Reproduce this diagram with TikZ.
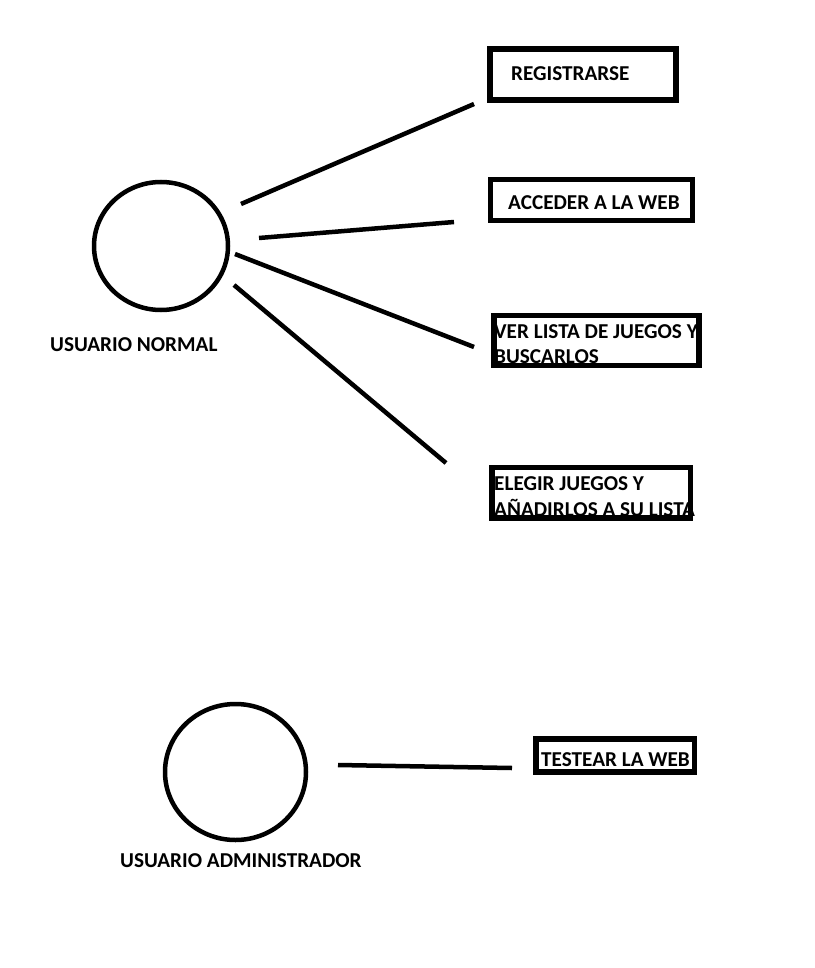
\documentclass[tikz,border=0pt]{standalone}
\usepackage{fontspec}
\setmainfont{Carlito}
\usetikzlibrary{shapes.geometric}
\begin{document}
\begin{tikzpicture}[x=1pt,y=-1pt,
  actor/.style={draw,line width=4.5pt,ellipse,inner sep=0pt},
  usecase/.style={draw,line width=5.5pt,rectangle,inner sep=0pt},
  lbl/.style={anchor=base west,inner sep=0pt,font=\fontsize{21.2}{25}\selectfont\bfseries},
  conn/.style={line width=4.5pt}]
\useasboundingbox[fill=white] (0,0) rectangle (814,968);
% actors
\node[actor,minimum width=134pt,minimum height=128pt] (u1) at (161,246) {};
\node[actor,minimum width=141pt,minimum height=136pt] (u2) at (235.5,772) {};
\node[lbl] (u1l) at (50,351) {USUARIO NORMAL};
\node[lbl] (u2l) at (120,867) {USUARIO ADMINISTRADOR};
% use case boxes
\node[usecase,minimum width=186pt,minimum height=51pt] (b1) at (583,74.5) {};
\node[usecase,minimum width=202pt,minimum height=41pt] (b2) at (591.5,200) {};
\node[usecase,minimum width=205pt,minimum height=50pt] (b3) at (596.5,340.5) {};
\node[usecase,minimum width=198.5pt,minimum height=50.5pt] (b4) at (591.25,492.75) {};
\node[usecase,minimum width=158.5pt,minimum height=33pt] (b5) at (615.25,755.5) {};
\node[lbl] (t1) at (511,81) {REGISTRARSE};
\node[lbl] (t2) at (508,210) {ACCEDER A LA WEB};
\node[lbl] (t3a) at (494,338) {VER LISTA DE JUEGOS Y};
\node[lbl] (t3b) at (494,363) {BUSCARLOS};
\node[lbl] (t4a) at (494,490) {ELEGIR JUEGOS Y};
\node[lbl] (t4b) at (494,516) {AÑADIRLOS A SU LISTA};
\node[lbl] (t5) at (541,766) {TESTEAR LA WEB};
% connector ends
\coordinate (c1s) at (241,204); \coordinate (c1e) at (474,104);
\coordinate (c2s) at (259,238); \coordinate (c2e) at (454,222);
\coordinate (c3s) at (235,254); \coordinate (c3e) at (474,347);
\coordinate (c4s) at (234,285); \coordinate (c4e) at (446,463);
\coordinate (c5s) at (338,765); \coordinate (c5e) at (512,768);
\draw[conn] (c1s) -- (c1e);
\draw[conn] (c2s) -- (c2e);
\draw[conn] (c3s) -- (c3e);
\draw[conn] (c4s) -- (c4e);
\draw[conn] (c5s) -- (c5e);
\end{tikzpicture}
\end{document}
